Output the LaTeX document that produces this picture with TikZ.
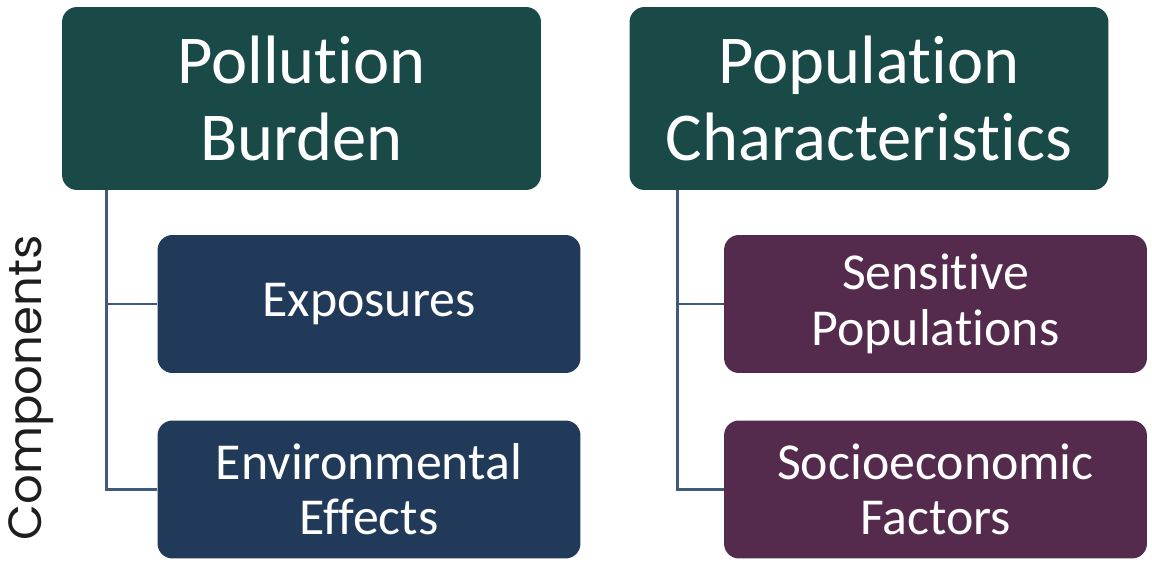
\documentclass[tikz,border=0pt]{standalone}
\usepackage{fontspec}
\setmainfont{Carlito}[Ligatures=CommonOff]
\newfontfamily\labelfont{Poppins}
\usepackage{tikz}
\usetikzlibrary{positioning, calc}
\definecolor{CEGreen}  {RGB}{ 26,  74,  72}
\definecolor{CENavy}   {RGB}{ 34,  58,  90}
\definecolor{CEPlum}   {RGB}{ 85,  43,  77}
\definecolor{CELink}   {RGB}{ 63,  91, 123}
\definecolor{CEText}   {RGB}{ 30,  30,  30}

\tikzset{
  headbox/.style={rectangle, rounded corners=0.3cm, fill=CEGreen,
                  text=white, align=center, minimum width=9.58cm,
                  minimum height=3.66cm, font=\fontsize{39}{44}\selectfont},
  subbox/.style={rectangle, rounded corners=0.3cm, text=white,
                 align=center, minimum width=8.46cm, minimum height=2.76cm,
                 font=\fontsize{29.5}{31.5}\selectfont},
  link/.style={draw=CELink, line width=1.7pt}
}

\begin{document}
\begin{tikzpicture}[x=0.02cm, y=-0.02cm]
      \useasboundingbox (0,0) rectangle (1152,570);

      % top level
      \node[headbox] (pollution)  at (301.5, 98.5) {Pollution\\Burden};
      \node[headbox] (population) at (869, 98.5) {Population\\Characteristics};

      % components
      \node[subbox, fill=CENavy] (exposures) at (369, 304) {Exposures};
      \node[subbox, fill=CENavy] (effects)   at (369, 489.5) {Environmental\\Effects};
      \node[subbox, fill=CEPlum] (sensitive) at (935.5, 304) {Sensitive\\Populations};
      \node[subbox, fill=CEPlum] (socio)     at (935.5, 489.5) {Socioeconomic\\Factors};

      \node[rotate=90, text=CEText, font=\labelfont\fontsize{26.5}{30}\selectfont]
        (components) at (31, 388) {Components};

      % connectors
      \draw[link] ([xshift=0.9cm]pollution.south west) |- (exposures.west);
      \draw[link] ([xshift=0.9cm]pollution.south west) |- (effects.west);
      \draw[link] ([xshift=0.96cm]population.south west) |- (sensitive.west);
      \draw[link] ([xshift=0.96cm]population.south west) |- (socio.west);
    \end{tikzpicture}
\end{document}
